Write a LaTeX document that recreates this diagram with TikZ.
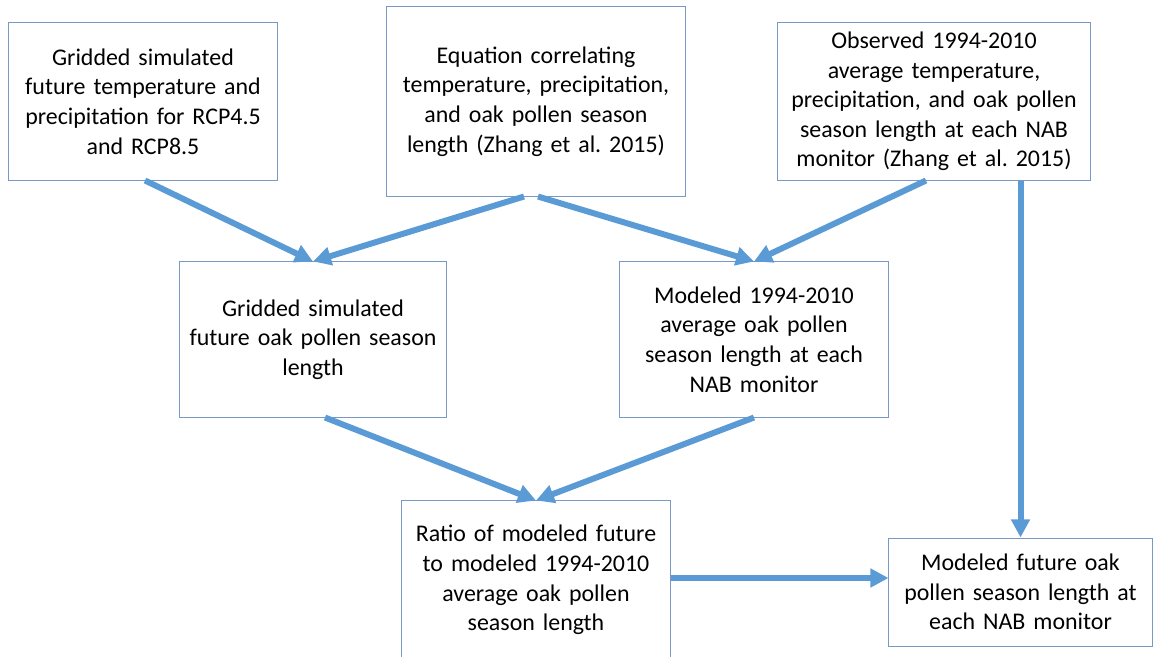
\documentclass[tikz,border=0pt]{standalone}
\usepackage{fontspec}
\setmainfont{Carlito}
\frenchspacing
\usetikzlibrary{arrows.meta}
\definecolor{boxline}{RGB}{122,152,196}
\definecolor{flowblue}{RGB}{91,155,213}
\begin{document}
\begin{tikzpicture}[x=0.025cm,y=-0.025cm]
      \useasboundingbox (0,0) rectangle (1154,656);
      \begin{scope}
        \begin{scope}[every node/.style={draw=boxline,line width=0.7pt,align=center,
            font=\fontsize{17}{21}\selectfont,inner sep=2pt}]
          \node[minimum width=6.7cm,minimum height=3.925cm,text width=6.4cm] (grid) at (143,101.5)
            {Gridded simulated\\future temperature and\\precipitation for RCP4.5\\and RCP8.5};
          \node[minimum width=7.45cm,minimum height=4.725cm,text width=7.2cm] (eqn) at (536,101.5)
            {Equation correlating\\temperature, precipitation,\\and oak pollen season\\length (Zhang et al. 2015)};
          \node[minimum width=7.8cm,minimum height=3.925cm,text width=7.5cm] (obs) at (934,101.5)
            {Observed 1994-2010\\average temperature,\\precipitation, and oak pollen\\season length at each NAB\\monitor (Zhang et al. 2015)};
          \node[minimum width=6.65cm,minimum height=3.875cm,text width=6.3cm] (futgrid) at (313,339.5)
            {Gridded simulated\\future oak pollen season\\length};
          \node[minimum width=6.7cm,minimum height=3.875cm,text width=6.4cm] (modobs) at (754,339.5)
            {Modeled 1994-2010\\average oak pollen\\season length at each\\NAB monitor};
          \node[minimum width=6.7cm,minimum height=3.95cm,text width=6.4cm] (ratio) at (536,580)
            {Ratio of modeled future\\to modeled 1994-2010\\average oak pollen\\season length};
          \node[minimum width=6.575cm,minimum height=2.7cm,text width=6.3cm] (result) at (1020.5,592)
            {Modeled future oak\\pollen season length at\\each NAB monitor};
        \end{scope}
        \begin{scope}[every edge/.style={draw=flowblue,line width=0.15cm,
            -{Triangle[width=0.45cm,length=0.45cm]}}]
          \path ([xshift=0.05cm]grid.south) edge (futgrid.north)
                ([xshift=-0.3cm]eqn.south) edge (futgrid.north)
                ([xshift=0.05cm]eqn.south) edge (modobs.north)
                ([xshift=-0.2cm]obs.south) edge (modobs.north)
                (result.north |- obs.south) edge (result.north)
                ([xshift=0.3cm]futgrid.south) edge (ratio.north)
                (modobs.south) edge (ratio.north)
                ([yshift=0.05cm]ratio.east) edge ([yshift=0.05cm]ratio.east -| result.west);
        \end{scope}
      \end{scope}
    \end{tikzpicture}
\end{document}
